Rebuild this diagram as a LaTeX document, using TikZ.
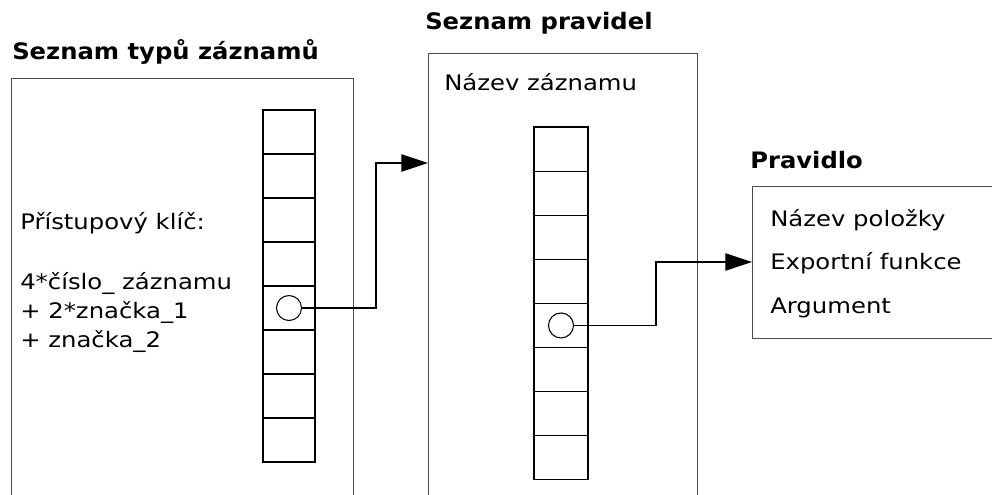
\documentclass[tikz,border=0pt]{standalone}
\usepackage{fontspec}
\usetikzlibrary{arrows.meta}
\newfontfamily\bodyfont[FakeStretch=1.14]{DejaVu Sans}
\newfontfamily\headfont[FakeStretch=1.07]{DejaVu Sans}
\begin{document}
\begin{tikzpicture}[x=0.75pt,y=-0.75pt,
  frame/.style={draw=black!70, line width=0.85pt, inner sep=0pt, anchor=north west},
  cellA/.style={draw, line width=0.8pt, inner sep=0pt, minimum width=39pt, minimum height=33pt},
  cellB/.style={draw, line width=0.8pt, inner sep=0pt, minimum width=40.5pt, minimum height=33.1pt},
  slot/.style={draw, circle, line width=0.8pt, inner sep=0pt, minimum size=18.75pt},
  body/.style={anchor=base west, inner sep=0pt, font=\bodyfont\fontsize{16}{19}\selectfont},
  head/.style={anchor=base west, inner sep=0pt, font=\headfont\bfseries\fontsize{17}{20}\selectfont},
  conn/.style={line width=0.8pt, -{Triangle[length=20pt,width=13pt]}}]
\clip (0,0) rectangle (992,494);

% outer frames (cut off by the page edge)
\node[frame, minimum width=256.5pt, minimum height=340pt] (types) at (11,78) {};
\node[frame, minimum width=201.75pt, minimum height=360pt] (rules) at (428,53) {};
\node[frame, minimum width=190pt, minimum height=114pt] (rule) at (752,186) {};

% titles
\node[head] (t1) at (12,59) {Seznam typů záznamů};
\node[head] (t2) at (425,29.5) {Seznam pravidel};
\node[head] (t3) at (750,168) {Pravidlo};

% record type table
\foreach \i in {1,...,8}
  \node[cellA] (a\i) at (289,{88+44*\i}) {};
\node[slot] (c1) at (a5.center) {};

% rule table
\foreach \i in {1,...,8}
  \node[cellB] (b\i) at (561,{104.95+44.1*\i}) {};
\node[slot] (c2) at (b5.center) {};

% texts
\node[body] (n1) at (444,90) {Název záznamu};
\node[body] (k1) at (20,229) {Přístupový klíč:};
\node[body] (k2) at (20,289) {4*číslo\_ záznamu};
\node[body] (k3) at (20,318) {+ 2*značka\_1};
\node[body] (k4) at (20,347) {+ značka\_2};
\node[body] (f1) at (770,226) {Název položky};
\node[body] (f2) at (770,269) {Exportní funkce};
\node[body] (f3) at (770,313) {Argument};

% pointers
\coordinate (bend1) at (376,163);
\coordinate (bend2) at (656,262);
\draw[conn] (c1.east) -| (bend1) -- (bend1 -| rules.west);
\draw[conn] (c2.east) -| (bend2) -- (bend2 -| rule.west);
\end{tikzpicture}
\end{document}
